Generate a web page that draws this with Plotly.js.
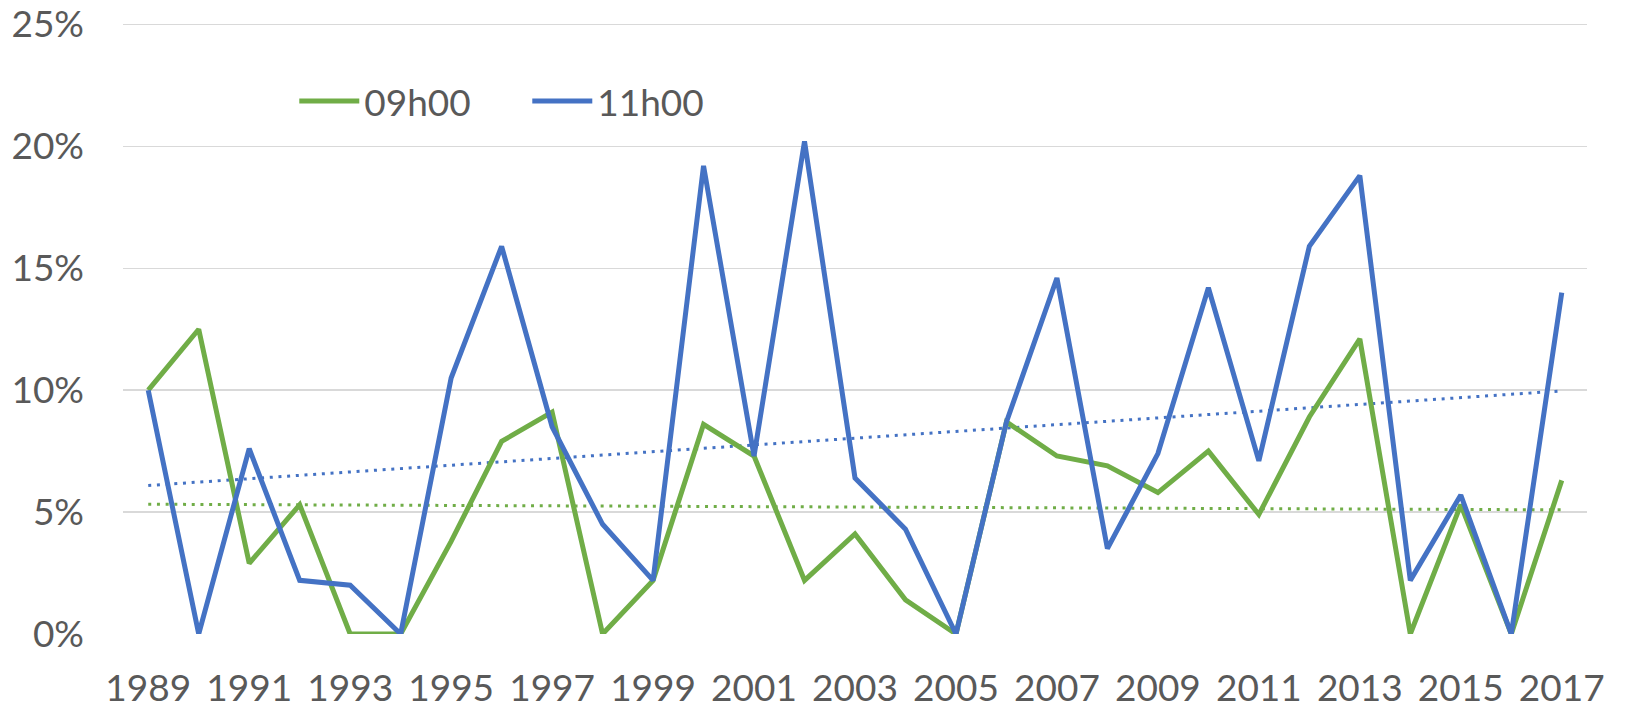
<!DOCTYPE html>
<html>
<head>
<meta charset="utf-8">
<script src="https://cdn.plot.ly/plotly-3.0.1.min.js"></script>
<style>
  html, body { margin: 0; padding: 0; background: #ffffff; }
  #chart { width: 1627px; height: 710px; }
</style>
</head>
<body>
<div id="chart"></div>
<script>
// Data (values in %)
const years = [1989,1990,1991,1992,1993,1994,1995,1996,1997,1998,1999,2000,2001,2002,2003,2004,2005,2006,2007,2008,2009,2010,2011,2012,2013,2014,2015,2016,2017];
const h09 = [10.0,12.5,2.9,5.3,0,0,3.8,7.9,9.1,0,2.2,8.6,7.3,2.2,4.1,1.4,0,8.7,7.3,6.9,5.8,7.5,4.9,8.9,12.1,0,5.3,0,6.3];
const h11 = [10.0,0,7.6,2.2,2.0,0,10.5,15.9,8.5,4.5,2.2,19.2,7.3,20.2,6.4,4.3,0,8.7,14.6,3.5,7.4,14.2,7.1,15.9,18.8,2.2,5.7,0,14.0];
const seriesNames = ['09h00', '11h00'];
const tickYears = [1989,1991,1993,1995,1997,1999,2001,2003,2005,2007,2009,2011,2013,2015,2017];
const tickLabels = tickYears.map(String);
const yTickVals = [0, 5, 10, 15, 20, 25];
const yTickLabels = ['0%', '5%', '10%', '15%', '20%', '25%'];

// Linear least-squares trendline of a series
function trend(xs, ys) {
  const n = xs.length;
  let sx = 0, sy = 0, sxx = 0, sxy = 0;
  for (let i = 0; i < n; i++) { sx += xs[i]; sy += ys[i]; sxx += xs[i]*xs[i]; sxy += xs[i]*ys[i]; }
  const b = (n*sxy - sx*sy) / (n*sxx - sx*sx);
  const a = (sy - b*sx) / n;
  return xs.map(x => a + b*x);
}

const GREEN = '#70AD47', BLUE = '#4472C4';

const traces = [
  { x: years, y: trend(years, h09), type: 'scatter', mode: 'lines', showlegend: false, hoverinfo: 'skip',
    line: { color: GREEN, width: 3, dash: '3px,5.7px' } },
  { x: years, y: trend(years, h11), type: 'scatter', mode: 'lines', showlegend: false, hoverinfo: 'skip',
    line: { color: BLUE, width: 3, dash: '3px,5.7px' } },
  { x: years, y: h09, name: seriesNames[0], type: 'scatter', mode: 'lines',
    line: { color: GREEN, width: 5 } },
  { x: years, y: h11, name: seriesNames[1], type: 'scatter', mode: 'lines',
    line: { color: BLUE, width: 5 } }
];

const layout = {
  width: 1627, height: 710,
  margin: { l: 123, r: 40, t: 22, b: 76 },
  paper_bgcolor: '#ffffff', plot_bgcolor: '#ffffff',
  font: { family: 'Lato, "Open Sans", sans-serif', size: 37, color: '#595959' },
  showlegend: true,
  legend: {
    orientation: 'h', x: 0.117, y: 0.87, xanchor: 'left', yanchor: 'middle',
    font: { size: 37, color: '#595959' }, itemwidth: 60,
    entrywidth: 158, entrywidthmode: 'pixels',
    bgcolor: 'rgba(0,0,0,0)', traceorder: 'normal'
  },
  xaxis: {
    range: [1988.5, 2017.5], tickmode: 'array', tickvals: tickYears, ticktext: tickLabels,
    showgrid: false, zeroline: false, showline: false, ticks: '', ticklabelstandoff: 29,
    fixedrange: true
  },
  yaxis: {
    range: [0, 25.1], tickmode: 'array', tickvals: yTickVals, ticktext: yTickLabels,
    showgrid: true, gridcolor: '#D9D9D9', gridwidth: 1.5, zeroline: false, showline: false,
    ticks: '', ticklabelstandoff: 38, ticklabeloverflow: 'allow', fixedrange: true
  }
};

Plotly.newPlot('chart', traces, layout, { displayModeBar: false, staticPlot: true });
</script>
</body>
</html>
